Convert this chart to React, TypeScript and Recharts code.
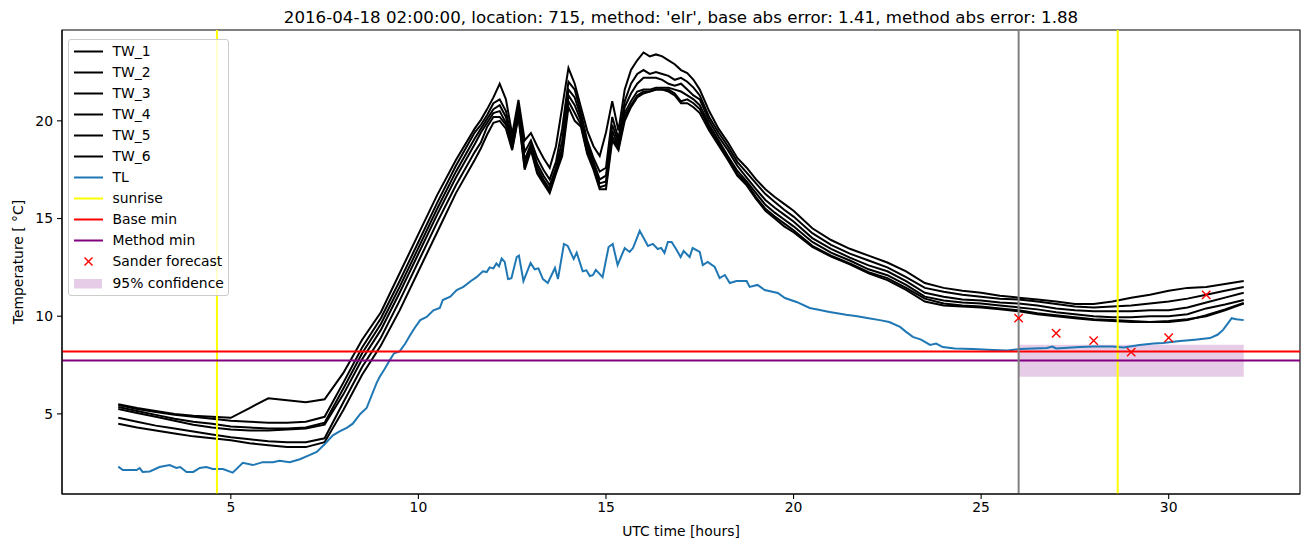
import React from 'react';
import { ComposedChart, Line, Scatter, XAxis, YAxis, ReferenceLine, ReferenceArea, Legend } from 'recharts';

// water temperature sensors, shared time grid (hours UTC)
const twHours = [
	2, 2.5, 3, 3.5, 4, 4.5, 5, 5.5, 6, 6.5, 7, 7.5,
	8, 8.5, 9, 9.5, 10, 10.5, 11, 11.5,
	11.667, 11.833, 12, 12.167, 12.333, 12.5, 12.667, 12.833, 13, 13.167, 13.333, 13.5,
	13.667, 13.833, 14, 14.167, 14.333, 14.5, 14.667, 14.833, 15, 15.167, 15.333, 15.5,
	15.667, 15.833, 16, 16.167, 16.333, 16.5, 16.667, 16.833, 17, 17.167, 17.333, 17.5,
	17.75, 18, 18.25, 18.5, 18.75, 19, 19.25, 19.5, 19.75, 20,
	20.5, 21, 21.5, 22, 22.5, 23, 23.5, 24, 24.5, 25, 25.5, 26,
	26.5, 27, 27.5, 28, 28.5, 29, 29.5, 30, 30.5, 31, 31.5, 32,
];

const tw1 = [
	5.5, 5.3, 5.15, 5.0, 4.9, 4.85, 4.8, 5.3, 5.8, 5.7, 5.6, 5.75,
	7.1, 8.8, 10.2, 12.2, 14.2, 16.2, 18.0, 19.6,
	20.05, 20.6, 21.2, 21.9, 21.1, 19.3, 21.07, 19.0, 19.37, 18.7, 18.1, 17.6,
	18.7, 20.7, 22.7, 21.9, 20.7, 19.5, 18.7, 18.2, 19.4, 21.0, 19.5, 21.6,
	22.6, 23.1, 23.5, 23.3, 23.4, 23.3, 23.1, 22.9, 22.6, 22.45, 22.1, 21.6,
	20.5, 19.6, 18.9, 18.1, 17.6, 17.0, 16.5, 16.1, 15.75, 15.4,
	14.5, 13.9, 13.45, 13.1, 12.75, 12.3, 11.7, 11.45, 11.3, 11.2, 11.05, 10.95,
	10.85, 10.75, 10.62, 10.62, 10.75, 10.95, 11.1, 11.3, 11.45, 11.5, 11.65, 11.8,
];
const tw2 = [
	5.45, 5.25, 5.1, 4.95, 4.85, 4.75, 4.65, 4.6, 4.55, 4.55, 4.6, 4.85,
	6.6, 8.4, 9.9, 11.8, 13.8, 15.8, 17.7, 19.4,
	19.8, 20.3, 20.9, 21.1, 20.5, 19.0, 20.8, 18.4, 19.0, 18.1, 17.5, 17.0,
	17.9, 19.6, 22.0, 21.6, 20.4, 19.0, 18.1, 17.4, 17.6, 20.2, 19.1, 21.0,
	21.9, 22.4, 22.6, 22.4, 22.5, 22.4, 22.3, 22.1, 22.2, 22.0, 21.7, 21.3,
	20.2, 19.4, 18.7, 17.9, 17.35, 16.8, 16.25, 15.85, 15.45, 15.1,
	14.25, 13.65, 13.2, 12.85, 12.5, 12.0, 11.45, 11.25, 11.1, 11.0, 10.9, 10.85,
	10.75, 10.62, 10.5, 10.45, 10.5, 10.55, 10.65, 10.75, 10.9, 11.1, 11.3, 11.5,
];
const tw3 = [
	5.35, 5.15, 4.95, 4.75, 4.6, 4.5, 4.35, 4.3, 4.25, 4.25, 4.3, 4.55,
	6.3, 8.1, 9.6, 11.5, 13.5, 15.5, 17.4, 19.1,
	19.6, 20.1, 20.6, 20.8, 20.2, 18.8, 20.6, 18.0, 18.8, 17.8, 17.2, 16.7,
	17.6, 19.0, 21.6, 21.2, 20.2, 18.8, 17.9, 17.0, 17.2, 19.8, 18.9, 20.7,
	21.4, 21.9, 22.2, 22.2, 22.2, 22.1, 21.9, 21.8, 21.9, 21.6, 21.3, 21.1,
	20.0, 19.2, 18.5, 17.7, 17.1, 16.5, 15.95, 15.55, 15.2, 14.85,
	14.0, 13.45, 13.0, 12.6, 12.3, 11.8, 11.2, 11.0, 10.85, 10.8, 10.7, 10.65,
	10.55, 10.4, 10.3, 10.25, 10.25, 10.25, 10.3, 10.3, 10.45, 10.7, 10.95, 11.2,
];
const tw4 = [
	5.25, 5.05, 4.85, 4.65, 4.45, 4.3, 4.2, 4.15, 4.15, 4.2, 4.25, 4.45,
	6.0, 7.8, 9.3, 11.2, 13.2, 15.2, 17.1, 18.8,
	19.4, 19.9, 20.4, 20.5, 19.9, 18.7, 20.4, 17.8, 18.7, 17.6, 17.0, 16.5,
	17.5, 18.6, 21.3, 20.8, 20.0, 18.6, 17.7, 16.8, 16.9, 19.5, 18.7, 20.4,
	21.0, 21.5, 21.6, 21.6, 21.7, 21.7, 21.7, 21.6, 21.5, 21.3, 21.1, 20.8,
	19.8, 19.0, 18.2, 17.45, 16.9, 16.3, 15.7, 15.3, 14.95, 14.6,
	13.8, 13.25, 12.85, 12.4, 12.1, 11.6, 11.0, 10.8, 10.7, 10.65, 10.55, 10.45,
	10.35, 10.2, 10.1, 10.0, 9.95, 9.95, 10.0, 10.0, 10.1, 10.4, 10.6, 10.83,
];
const tw5 = [
	4.8, 4.6, 4.4, 4.25, 4.1, 3.95, 3.8, 3.7, 3.6, 3.55, 3.55, 3.75,
	5.6, 7.4, 8.9, 10.8, 12.8, 14.8, 16.7, 18.4,
	18.9, 19.7, 20.2, 20.2, 19.8, 18.6, 20.3, 17.6, 18.6, 17.4, 16.9, 16.4,
	17.4, 18.4, 21.0, 20.4, 19.8, 18.4, 17.6, 16.6, 16.7, 19.2, 18.6, 20.2,
	20.8, 21.3, 21.5, 21.5, 21.6, 21.6, 21.6, 21.4, 21.0, 21.1, 20.9, 20.6,
	19.65, 18.85, 18.1, 17.3, 16.8, 16.1, 15.5, 15.1, 14.75, 14.4,
	13.6, 13.1, 12.7, 12.25, 11.95, 11.45, 10.9, 10.65, 10.55, 10.5, 10.4, 10.3,
	10.15, 10.05, 9.95, 9.85, 9.8, 9.75, 9.7, 9.7, 9.8, 10.05, 10.35, 10.68,
];
const tw6 = [
	4.5, 4.3, 4.15, 4.0, 3.85, 3.75, 3.65, 3.5, 3.4, 3.3, 3.3, 3.55,
	5.2, 7.0, 8.5, 10.3, 12.3, 14.3, 16.3, 18.0,
	18.6, 19.3, 19.9, 20.0, 19.6, 18.5, 20.2, 17.5, 18.5, 17.3, 16.8, 16.3,
	17.3, 18.2, 20.7, 20.0, 19.7, 18.3, 17.5, 16.5, 16.5, 19.0, 18.5, 20.0,
	20.7, 21.2, 21.4, 21.5, 21.6, 21.6, 21.5, 21.3, 20.9, 20.9, 20.7, 20.4,
	19.5, 18.75, 18.0, 17.2, 16.7, 16.0, 15.4, 15.0, 14.6, 14.3,
	13.55, 13.05, 12.65, 12.2, 11.85, 11.35, 10.75, 10.55, 10.5, 10.45, 10.35, 10.25,
	10.1, 10.0, 9.9, 9.8, 9.75, 9.7, 9.7, 9.75, 9.85, 10.0, 10.3, 10.65,
];

// air temperature
const tlHours = [
	2.0, 2.12, 2.49, 2.57, 2.65, 2.84, 3.1, 3.37, 3.55, 3.65, 3.82, 4.0, 4.17, 4.35, 4.52, 4.79,
	5.05, 5.32, 5.59, 5.85, 6.12, 6.3, 6.57, 6.84, 7.05, 7.29, 7.5, 7.72, 7.9, 8.1, 8.25, 8.45,
	8.62, 8.89, 8.97, 9.1, 9.24, 9.35, 9.5, 9.65, 9.77, 9.9, 10.05, 10.22, 10.4, 10.57, 10.65, 10.85,
	11.02, 11.2, 11.4, 11.55, 11.72, 11.82, 11.9, 12.0, 12.08, 12.15, 12.22, 12.3, 12.39, 12.48, 12.62, 12.68,
	12.8, 12.99, 13.1, 13.2, 13.32, 13.45, 13.64, 13.72, 13.88, 13.98, 14.14, 14.22, 14.38, 14.48, 14.57, 14.65,
	14.73, 14.91, 15.07, 15.18, 15.31, 15.5, 15.63, 15.72, 15.9, 16.12, 16.25, 16.38, 16.47, 16.56, 16.65, 16.75,
	16.88, 16.99, 17.07, 17.23, 17.31, 17.5, 17.58, 17.71, 17.9, 18.03, 18.17, 18.3, 18.48, 18.75, 18.83, 19.04,
	19.23, 19.58, 19.77, 20.08, 20.43, 20.7, 20.96, 21.4, 21.7, 22.0, 22.3, 22.55, 22.84, 23.0, 23.18, 23.4,
	23.64, 23.8, 23.98, 24.3, 24.78, 25.32, 25.7, 26.03, 26.75, 26.9, 27.0, 27.63, 28.0, 28.5, 28.8, 29.22,
	29.6, 29.84, 30.3, 30.7, 31.1, 31.3, 31.45, 31.68, 31.8, 32.0,
];
const tlValues = [
	2.3, 2.13, 2.13, 2.23, 2.03, 2.05, 2.28, 2.38, 2.23, 2.28, 2.03, 2.03, 2.23, 2.28, 2.18, 2.18,
	1.99, 2.5, 2.38, 2.53, 2.53, 2.6, 2.53, 2.68, 2.85, 3.05, 3.45, 3.9, 4.1, 4.3, 4.5, 5.0,
	5.3, 6.6, 6.9, 7.3, 7.76, 8.1, 8.2, 8.6, 9.0, 9.4, 9.8, 9.96, 10.3, 10.42, 10.83, 11.0,
	11.34, 11.5, 11.8, 12.0, 12.3, 12.26, 12.5, 12.45, 12.7, 12.55, 12.96, 12.78, 11.9, 11.95, 13.03, 13.1,
	11.8, 12.73, 12.4, 12.45, 11.9, 11.7, 12.47, 11.9, 13.7, 13.6, 12.93, 13.25, 12.3, 12.35, 12.06, 12.1,
	12.37, 12.0, 13.54, 13.7, 12.62, 13.49, 13.29, 13.49, 14.37, 13.6, 13.7, 13.44, 13.5, 13.24, 13.8, 13.8,
	13.4, 13.03, 13.34, 13.03, 13.49, 13.29, 12.62, 12.78, 12.52, 11.95, 12.11, 11.7, 11.8, 11.8, 11.5, 11.6,
	11.34, 11.19, 10.93, 10.73, 10.42, 10.32, 10.22, 10.07, 10.0, 9.9, 9.8, 9.7, 9.45, 9.2, 8.94, 8.8,
	8.53, 8.6, 8.42, 8.35, 8.32, 8.27, 8.25, 8.32, 8.37, 8.45, 8.35, 8.42, 8.45, 8.45, 8.4, 8.53,
	8.6, 8.63, 8.73, 8.8, 8.88, 9.05, 9.3, 9.9, 9.85, 9.8,
];

const sunriseHours = [4.63, 28.64];
const forecastStartHour = 26;
const baseMin = 8.2;
const methodMin = 7.73;
const forecastHours = [26, 27, 28, 29, 30, 31];
const forecastValues = [9.9, 9.13, 8.75, 8.16, 8.9, 11.09];
const confidenceHours = [26, 32];
const confidenceRange = [6.9, 8.54];

const xTicks = [5, 10, 15, 20, 25, 30];
const yTicks = [5, 10, 15, 20];
const xDomain = [0.5, 33.5];
const yDomain = [0.9, 24.65];

const twKeys = ['TW_1', 'TW_2', 'TW_3', 'TW_4', 'TW_5', 'TW_6'];
const twSeries = [tw1, tw2, tw3, tw4, tw5, tw6];

const twData = twHours.map((t, i) => {
	const row: Record<string, number> = { t };
	twKeys.forEach((k, j) => {
		row[k] = twSeries[j][i];
	});
	return row;
});
const tlData = tlHours.map((t, i) => ({ t, TL: tlValues[i] }));
const forecastData = forecastHours.map((t, i) => ({ t, forecast: forecastValues[i] }));

const FONT = "'DejaVu Sans', sans-serif";
const tickStyle = { fontSize: 13.9, fill: '#000', fontFamily: FONT };

const Cross = (props: any) => {
	const { cx, cy } = props;
	if (cx == null || cy == null) return null;
	const s = 4.2;
	return (
		<g stroke="#ff0000" strokeWidth={1.4}>
			<line x1={cx - s} y1={cy - s} x2={cx + s} y2={cy + s} />
			<line x1={cx - s} y1={cy + s} x2={cx + s} y2={cy - s} />
		</g>
	);
};

const legendItems = [
	...twKeys.map((k) => ({ label: k, kind: 'line', color: '#000' })),
	{ label: 'TL', kind: 'line', color: '#1f77b4' },
	{ label: 'sunrise', kind: 'line', color: '#ffff00' },
	{ label: 'Base min', kind: 'line', color: '#ff0000' },
	{ label: 'Method min', kind: 'line', color: '#800080' },
	{ label: 'Sander forecast', kind: 'cross', color: '#ff0000' },
	{ label: '95% confidence', kind: 'patch', color: 'rgba(128,0,128,0.2)' },
];

const renderLegend = () => (
	<div
		style={{
			width: 159,
			height: 254,
			border: '1px solid #cccccc',
			borderRadius: 3,
			background: 'rgba(255,255,255,0.8)',
			paddingTop: 1,
			fontFamily: FONT,
			fontSize: 13.9,
			color: '#000',
			boxSizing: 'content-box',
		}}
	>
		{legendItems.map((it) => (
			<div key={it.label} style={{ height: 21.06, display: 'flex', alignItems: 'center', whiteSpace: 'nowrap' }}>
				<svg width={40} height={21} style={{ marginLeft: 3.5, flex: 'none' }}>
					{it.kind === 'line' && <line x1={1} y1={10.5} x2={30} y2={10.5} stroke={it.color} strokeWidth={2} />}
					{it.kind === 'cross' && (
						<g stroke={it.color} strokeWidth={1.4}>
							<line x1={11.5} y1={6.5} x2={19.5} y2={14.5} />
							<line x1={11.5} y1={14.5} x2={19.5} y2={6.5} />
						</g>
					)}
					{it.kind === 'patch' && <rect x={1} y={6} width={28} height={9.5} fill={it.color} />}
				</svg>
				<span style={{ lineHeight: '21px' }}>{it.label}</span>
			</div>
		))}
	</div>
);

export default function App() {
	return (
		<div style={{ position: 'absolute', left: 0, top: 0, width: 1310, height: 547, background: '#fff', fontFamily: FONT }}>
			<div
				style={{
					position: 'absolute',
					left: 62,
					width: 1238,
					top: 10,
					textAlign: 'center',
					fontSize: 16.67,
					lineHeight: '1',
					whiteSpace: 'nowrap',
					color: '#000',
				}}
			>
				2016-04-18 02:00:00, location: 715, method: 'elr', base abs error: 1.41, method abs error: 1.88
			</div>
			<ComposedChart width={1310} height={547} data={twData} margin={{ top: 30, right: 10, bottom: 0, left: 0 }}>
				<XAxis
					type="number"
					dataKey="t"
					domain={xDomain}
					ticks={xTicks}
					allowDataOverflow
					height={53}
					tick={tickStyle}
					tickSize={5}
					tickMargin={3}
					axisLine={{ stroke: '#000', strokeWidth: 1.1 }}
					tickLine={{ stroke: '#000', strokeWidth: 1.1 }}
					label={{ value: 'UTC time [hours]', position: 'insideBottom', offset: 11, style: { fontSize: 13.9, fill: '#000', fontFamily: FONT } }}
				/>
				<YAxis
					type="number"
					domain={yDomain}
					ticks={yTicks}
					allowDataOverflow
					width={62}
					tick={tickStyle}
					tickSize={5}
					tickMargin={4}
					axisLine={{ stroke: '#000', strokeWidth: 1.1 }}
					tickLine={{ stroke: '#000', strokeWidth: 1.1 }}
					label={{
						value: 'Temperature [ °C]',
						angle: -90,
						position: 'insideLeft',
						offset: 18,
						style: { fontSize: 13.9, fill: '#000', fontFamily: FONT, textAnchor: 'middle' },
					}}
				/>
				<ReferenceArea
					x1={confidenceHours[0]}
					x2={confidenceHours[1]}
					y1={confidenceRange[0]}
					y2={confidenceRange[1]}
					fill="#800080"
					fillOpacity={0.2}
					stroke="none"
				/>
				{twKeys.map((k) => (
					<Line
						key={k}
						type="linear"
						dataKey={k}
						stroke="#000"
						strokeWidth={2}
						dot={false}
						isAnimationActive={false}
					/>
				))}
				<Line data={tlData} type="linear" dataKey="TL" stroke="#1f77b4" strokeWidth={2} dot={false} isAnimationActive={false} />
				{sunriseHours.map((h) => (
					<ReferenceLine key={h} x={h} stroke="#ffff00" strokeWidth={2} />
				))}
				<ReferenceLine y={baseMin} stroke="#ff0000" strokeWidth={2} />
				<ReferenceLine y={methodMin} stroke="#800080" strokeWidth={2} />
				<ReferenceLine x={forecastStartHour} stroke="#808080" strokeWidth={2} />
				<Scatter data={forecastData} dataKey="forecast" shape={<Cross />} isAnimationActive={false} />
				<ReferenceArea x1={xDomain[0]} x2={xDomain[1]} y1={yDomain[0]} y2={yDomain[1]} fill="none" stroke="#000" strokeWidth={1.1} />
				<Legend
					layout="vertical"
					align="center"
					verticalAlign="middle"
					content={renderLegend}
					wrapperStyle={{ left: 68, top: 39, width: 161, height: 256 }}
				/>
			</ComposedChart>
		</div>
	);
}
